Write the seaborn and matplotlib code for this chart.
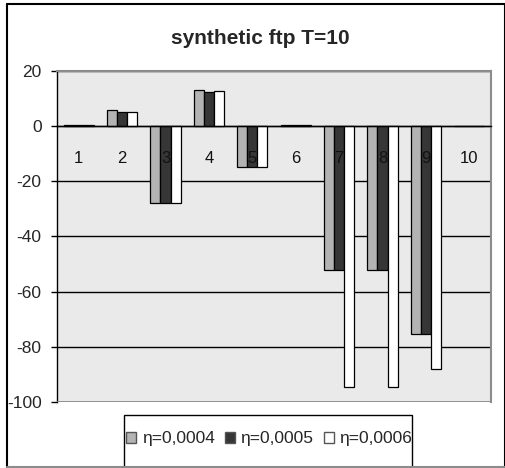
import matplotlib
matplotlib.use('Agg')
import matplotlib.pyplot as plt
import seaborn as sns
import pandas as pd
from matplotlib.ticker import FixedLocator
from matplotlib.lines import Line2D
from matplotlib.patches import Rectangle

categories = ['1', '2', '3', '4', '5', '6', '7', '8', '9', '10']
eta_0004 = [0.3, 5.8, -28.0, 13.0, -14.8, 0.3, -52.0, -52.0, -75.3, 0.0]
eta_0005 = [0.3, 5.1, -28.0, 12.3, -14.8, 0.3, -52.0, -52.0, -75.3, 0.0]
eta_0006 = [0.3, 5.1, -28.0, 12.8, -14.8, 0.3, -94.5, -94.5, -88.0, 0.0]
series_labels = ['η=0,0004', 'η=0,0005', 'η=0,0006']
y_ticks = [20, 0, -20, -40, -60, -80, -100]
title = 'synthetic ftp T=10'

sns.set_style('white')
plt.rcParams['font.family'] = ['Liberation Sans', 'DejaVu Sans']

rows = []
for lab, vals in zip(series_labels, [eta_0004, eta_0005, eta_0006]):
    for c, v in zip(categories, vals):
        rows.append({'cat': c, 'value': v, 'series': lab})
df = pd.DataFrame(rows)

fig = plt.figure(figsize=(5.06, 4.68), dpi=100)
ax = fig.add_axes([57 / 506, 1 - 402 / 468, (491 - 57) / 506, (402 - 71) / 468])
ax.set_facecolor('#EAEAEA')

sns.barplot(data=df, x='cat', y='value', hue='series', order=categories,
            hue_order=series_labels, palette=['#B3B3B3', '#363636', '#FFFFFF'],
            saturation=1, width=0.7, edgecolor='black', linewidth=0.9, ax=ax)

handles, labels = ax.get_legend_handles_labels()
if ax.get_legend() is not None:
    ax.get_legend().remove()

ax.set_xlim(-0.5, len(categories) - 0.5)
ax.set_ylim(-100, 20)
ax.set_yticks(y_ticks)
ax.set_yticklabels([str(t) for t in y_ticks], fontsize=12.5)
ax.set_xlabel('')
ax.set_ylabel('')
ax.set_axisbelow(True)
ax.yaxis.grid(True, color='black', linewidth=1)
ax.xaxis.grid(False)
ax.xaxis.set_zorder(3)

# category axis at zero
ax.spines['bottom'].set_position(('data', 0))
ax.spines['bottom'].set_color('black')
ax.spines['bottom'].set_linewidth(1)
ax.spines['left'].set_color('black')
ax.spines['left'].set_linewidth(1)
ax.spines['top'].set_color('#8C8C8C')
ax.spines['top'].set_linewidth(1.5)
ax.spines['right'].set_color('#8C8C8C')
ax.spines['right'].set_linewidth(1.5)
ax.axhline(-100, color='#8C8C8C', linewidth=2, zorder=2.6)

ax.xaxis.set_minor_locator(FixedLocator([i + 0.5 for i in range(len(categories))]))
ax.tick_params(axis='x', which='major', length=0, pad=18, labelsize=12, labelcolor='#111111')
ax.tick_params(axis='x', which='minor', length=4, width=1, direction='out', color='black')
ax.tick_params(axis='y', which='major', length=4, width=1, direction='out', color='black', pad=7, left=True)

fig.suptitle(title, x=0.515, y=1 - 38 / 468, va='center', fontsize=15, fontweight='bold')

leg = fig.legend(handles, labels, loc='center', bbox_to_anchor=(0.532, 1 - 439 / 468),
                 ncol=3, fontsize=12.5, frameon=False,
                 handlelength=0.6, handleheight=0.6, handletextpad=0.3, columnspacing=0.6,
                 borderpad=0, borderaxespad=0)
for h in leg.legend_handles:
    h.set_edgecolor('#555555')
    h.set_linewidth(1)

# legend frame
fig.add_artist(Rectangle((124 / 506, -0.05), (412 - 124) / 506, 1 - 415 / 468 + 0.05,
                         transform=fig.transFigure, fill=False, edgecolor='black', lw=1))

# outer chart border
fig.add_artist(Line2D([7 / 506, 7 / 506], [1 - 4 / 468, 1 - 467 / 468], transform=fig.transFigure, color='black', lw=1.5))
fig.add_artist(Line2D([7 / 506, 505 / 506], [1 - 4 / 468, 1 - 4 / 468], transform=fig.transFigure, color='black', lw=1.5))
fig.add_artist(Line2D([505 / 506, 505 / 506], [1 - 4 / 468, 1 - 467 / 468], transform=fig.transFigure, color='black', lw=1.5))
fig.add_artist(Line2D([7 / 506, 505 / 506], [1 - 467 / 468, 1 - 467 / 468], transform=fig.transFigure, color='#8C8C8C', lw=1.5))

fig.savefig('out.png', dpi=100, facecolor='white')
